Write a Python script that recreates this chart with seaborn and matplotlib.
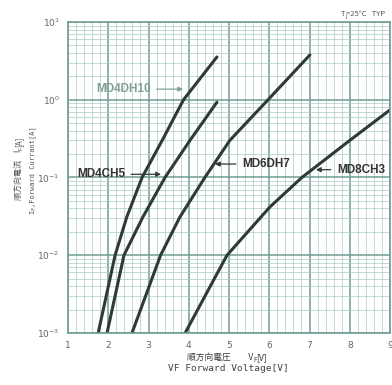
import numpy as np
import pandas as pd
import matplotlib
matplotlib.use("Agg")
import matplotlib.pyplot as plt
from matplotlib.ticker import MultipleLocator, LogLocator, NullFormatter
import seaborn as sns

# ---- data ----
md4dh10_v = [1.75, 2.17, 2.46, 2.84, 3.34, 3.87, 4.70]
md4dh10_i = [0.001, 0.01, 0.031, 0.10, 0.30, 1.0, 3.55]

md4ch5_v = [1.97, 2.39, 2.86, 3.41, 4.03, 4.70]
md4ch5_i = [0.001, 0.01, 0.031, 0.10, 0.30, 0.93]

md6dh7_v = [2.59, 3.30, 3.78, 4.40, 5.02, 5.97, 7.01]
md6dh7_i = [0.001, 0.01, 0.031, 0.10, 0.30, 1.0, 3.77]

md8ch3_v = [3.91, 4.95, 6.02, 6.81, 8.00, 9.00]
md8ch3_i = [0.001, 0.01, 0.042, 0.10, 0.30, 0.74]

series_names = ["MD4DH10", "MD4CH5", "MD6DH7", "MD8CH3"]
x_ticks = [1, 2, 3, 4, 5, 6, 7, 8, 9]

frames = []
for name, v, i in zip(series_names,
                      [md4dh10_v, md4ch5_v, md6dh7_v, md8ch3_v],
                      [md4dh10_i, md4ch5_i, md6dh7_i, md8ch3_i]):
    frames.append(pd.DataFrame({"V": v, "I": i, "name": name}))
df = pd.concat(frames, ignore_index=True)

sns.set_style("white")
plt.rcParams['font.family'] = ['DejaVu Sans', 'Noto Sans CJK JP']

W, H = 392, 385
fig = plt.figure(figsize=(W/100, H/100), dpi=100)
ax = fig.add_axes([68/W, 1-333/H, (390-68)/W, (333-22)/H])

major_c = "#6f9d95"
minor_c = "#a9cbc3"
line_c = "#2e3a36"

sns.lineplot(data=df, x="V", y="I", units="name", estimator=None,
             color=line_c, lw=2.2, ax=ax, sort=False)
ax.set_yscale("log")
ax.set_xlim(1, 9)
ax.set_ylim(1e-3, 1e1)

ax.xaxis.set_major_locator(MultipleLocator(1))
ax.xaxis.set_minor_locator(MultipleLocator(0.2))
ax.yaxis.set_major_locator(LogLocator(base=10, numticks=10))
ax.yaxis.set_minor_locator(LogLocator(base=10, subs=np.arange(2, 10), numticks=20))
ax.yaxis.set_minor_formatter(NullFormatter())

ax.grid(True, which="major", color=major_c, lw=1.1)
ax.grid(True, which="minor", color=minor_c, lw=0.5)
ax.set_axisbelow(True)
for s in ax.spines.values():
    s.set_color(major_c)
    s.set_linewidth(1.2)

ax.set_xticks(x_ticks)
ax.set_xticklabels([str(t) for t in x_ticks])
ax.tick_params(axis="both", which="both", length=0, labelsize=6.5, colors="#666666", pad=6)
ax.set_xlabel("")
ax.set_ylabel("")

renderer = fig.canvas.get_renderer()
CJK = ['Noto Sans CJK JP', 'DejaVu Sans']
MONO = ['DejaVu Sans Mono', 'Noto Sans CJK JP']


def seq_text(cx, cy, pieces, rotation=0, color="#555555"):
    """Draw text pieces one after another (pixel coords from top-left), centred on (cx, cy)."""
    texts = []
    lengths = []
    for s, size, sub, fam in pieces:
        t = fig.text(0, 0, s, fontsize=size, family=fam, rotation=rotation,
                     rotation_mode="anchor", ha="left", va="baseline",
                     color=color, transform=None)
        bb = t.get_window_extent(renderer)
        lengths.append(bb.width if rotation == 0 else bb.height)
        texts.append((t, sub))
    total = sum(lengths)
    pos = -total / 2
    for (t, sub), L in zip(texts, lengths):
        off = 1.8 if sub else 0
        if rotation == 0:
            t.set_position((cx + pos, (H - cy) - off))
        else:
            t.set_position((cx + off, (H - cy) + pos))
        pos += L


# axis titles
seq_text(21, 168, [("順方向電流　I", 5.8, False, CJK), ("F", 4.0, True, CJK),
                   ("[A]", 5.8, False, CJK)], rotation=90)
seq_text(34, 170, [("I", 5.0, False, MONO), ("F", 3.8, True, MONO),
                   (",Forward Currant[A]", 5.0, False, MONO)], rotation=90)
seq_text(227, 360, [("順方向電圧　　V", 6.3, False, CJK), ("F", 4.4, True, CJK),
                    ("[V]", 6.3, False, CJK)], color="#3a3a3a")
seq_text(228, 371, [("VF Forward Voltage[V]", 6.8, False, MONO)], color="#444444")
seq_text(363, 16, [("T", 5.5, False, CJK), ("j", 4.0, True, CJK),
                   ("=25°C   TYP", 5.5, False, CJK)], color="#555555")

# curve labels with arrows
lab_font = ['Liberation Sans', 'DejaVu Sans']
ap = dict(arrowstyle="-|>", color=line_c, lw=0.9, mutation_scale=7)
ax.annotate("MD4DH10", xy=(3.93, 1.37), xytext=(3.05, 1.37), ha="right", va="center",
            fontsize=8.5, color="#7f9f98", family=lab_font, fontweight="bold",
            arrowprops=dict(arrowstyle="-|>", color="#7f9f98", lw=0.9, mutation_scale=7))
ax.annotate("MD4CH5", xy=(3.38, 0.11), xytext=(2.42, 0.11), ha="right", va="center",
            fontsize=8.5, color="#333333", family=lab_font, fontweight="bold", arrowprops=ap)
ax.annotate("MD6DH7", xy=(4.58, 0.149), xytext=(5.32, 0.149), ha="left", va="center",
            fontsize=8.5, color="#333333", family=lab_font, fontweight="bold", arrowprops=ap)
ax.annotate("MD8CH3", xy=(7.09, 0.126), xytext=(7.68, 0.126), ha="left", va="center",
            fontsize=8.5, color="#333333", family=lab_font, fontweight="bold", arrowprops=ap)

fig.savefig("out.png", dpi=100)
